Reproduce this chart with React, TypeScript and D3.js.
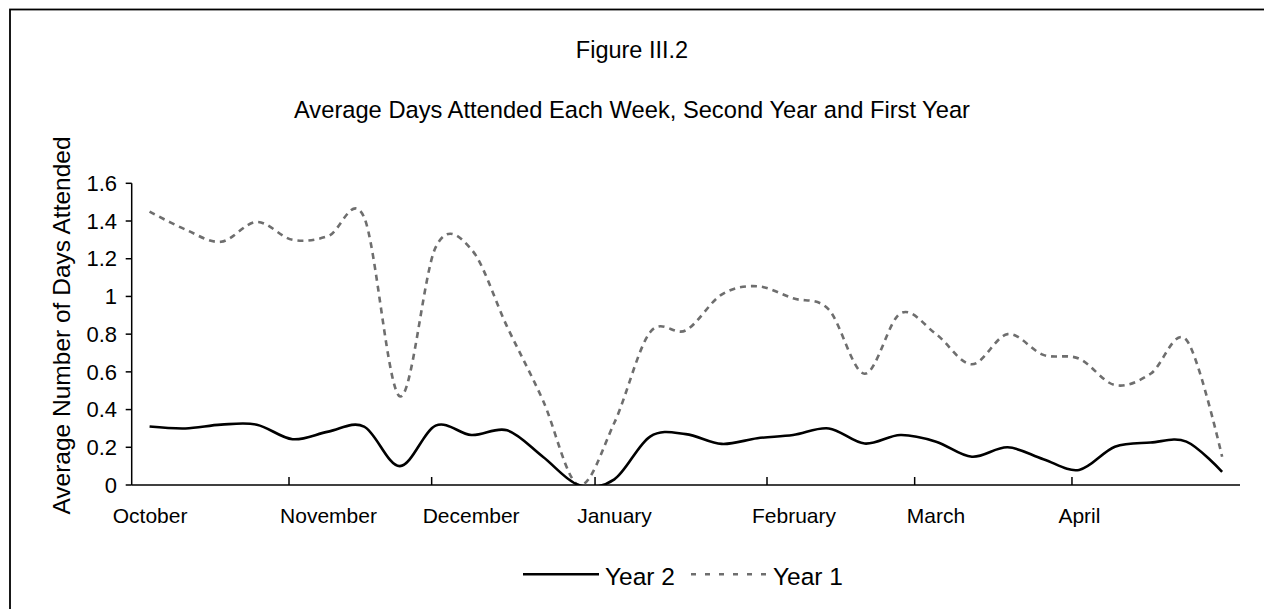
import React from "react";
import * as d3 from "d3";

const year2: number[] = [0.31, 0.30, 0.32, 0.32, 0.243, 0.283, 0.31, 0.10, 0.315, 0.265, 0.29, 0.15, 0, 0.03, 0.257, 0.27, 0.218, 0.248, 0.265, 0.30, 0.22, 0.265, 0.23, 0.15, 0.20, 0.137, 0.08, 0.203, 0.225, 0.23, 0.07];
const year1: number[] = [1.45, 1.355, 1.29, 1.395, 1.30, 1.32, 1.42, 0.47, 1.26, 1.25, 0.84, 0.45, 0, 0.33, 0.81, 0.82, 1.01, 1.054, 0.99, 0.93, 0.59, 0.91, 0.80, 0.64, 0.80, 0.69, 0.67, 0.53, 0.59, 0.77, 0.15];
const yTicks: number[] = [0, 0.2, 0.4, 0.6, 0.8, 1, 1.2, 1.4, 1.6];
const monthLabels: string[] = ["October", "November", "December", "January", "February", "March", "April"];
const monthLabelPos: number[] = [-1.03, 3.65, 7.64, 11.96, 16.85, 21.18, 25.42];
const monthTickPos: number[] = [3.9, 7.89, 12.46, 17.27, 21.4, 25.8];

const W = 1264;
const H = 609;
const FONT = "'Liberation Sans', Arial, sans-serif";

export default function App() {
  const x = d3.scaleLinear().domain([-0.5, year2.length - 0.5]).range([131.7, 1240]);
  const y = d3.scaleLinear().domain([0, 1.6]).range([485, 183.3]);
  const line = d3
    .line<number>()
    .x((_, i) => x(i))
    .y((d) => y(d))
    .curve(d3.curveCardinal.tension(0));

  return (
    <svg width={W} height={H} style={{ position: "absolute", left: 0, top: 0, background: "#fff" }} fontFamily={FONT}>
      <rect x={10} y={9.5} width={1400} height={800} fill="#fff" stroke="#000" strokeWidth={1.8} />
      <text x={632} y={58} textAnchor="middle" fontSize={23.5}>Figure III.2</text>
      <text x={632} y={118} textAnchor="middle" fontSize={23.7}>Average Days Attended Each Week, Second Year and First Year</text>

      <defs>
        <clipPath id="plotClip">
          <rect x={x.range()[0]} y={150} width={x.range()[1] - x.range()[0]} height={y(0) - 150} />
        </clipPath>
      </defs>

      {/* y axis */}
      <line x1={x.range()[0]} x2={x.range()[0]} y1={y(1.6)} y2={y(0)} stroke="#000" strokeWidth={1.5} />
      {yTicks.map((t) => (
        <g key={t}>
          <line x1={x.range()[0] - 6} x2={x.range()[0]} y1={y(t)} y2={y(t)} stroke="#000" strokeWidth={1.5} />
          <text x={117} y={y(t)} dy="0.35em" textAnchor="end" fontSize={22}>{String(t)}</text>
        </g>
      ))}
      <text transform={`translate(70,325.5) rotate(-90)`} textAnchor="middle" fontSize={24.5}>Average Number of Days Attended</text>

      {/* x axis */}
      <line x1={x.range()[0]} x2={x.range()[1]} y1={y(0)} y2={y(0)} stroke="#000" strokeWidth={1.5} />
      {monthTickPos.map((p, i) => (
        <line key={i} x1={x(p)} x2={x(p)} y1={y(0) - 8} y2={y(0)} stroke="#000" strokeWidth={1.5} />
      ))}
      {monthLabels.map((m, i) => (
        <text key={m} x={x(monthLabelPos[i])} y={523} fontSize={21}>{m}</text>
      ))}

      <g clipPath="url(#plotClip)">
        <path d={line(year1) || ""} fill="none" stroke="#6e6e6e" strokeWidth={2.6} strokeDasharray="6,5" />
        <path d={line(year2) || ""} fill="none" stroke="#000" strokeWidth={2.6} />
      </g>

      {/* legend */}
      <line x1={523} x2={599} y1={574.3} y2={574.3} stroke="#000" strokeWidth={2.5} />
      <text x={605} y={585} fontSize={24.5}>Year 2</text>
      <line x1={691} x2={768} y1={574.3} y2={574.3} stroke="#6e6e6e" strokeWidth={2.5} strokeDasharray="5,9" />
      <text x={773} y={585} fontSize={24.5}>Year 1</text>
    </svg>
  );
}
